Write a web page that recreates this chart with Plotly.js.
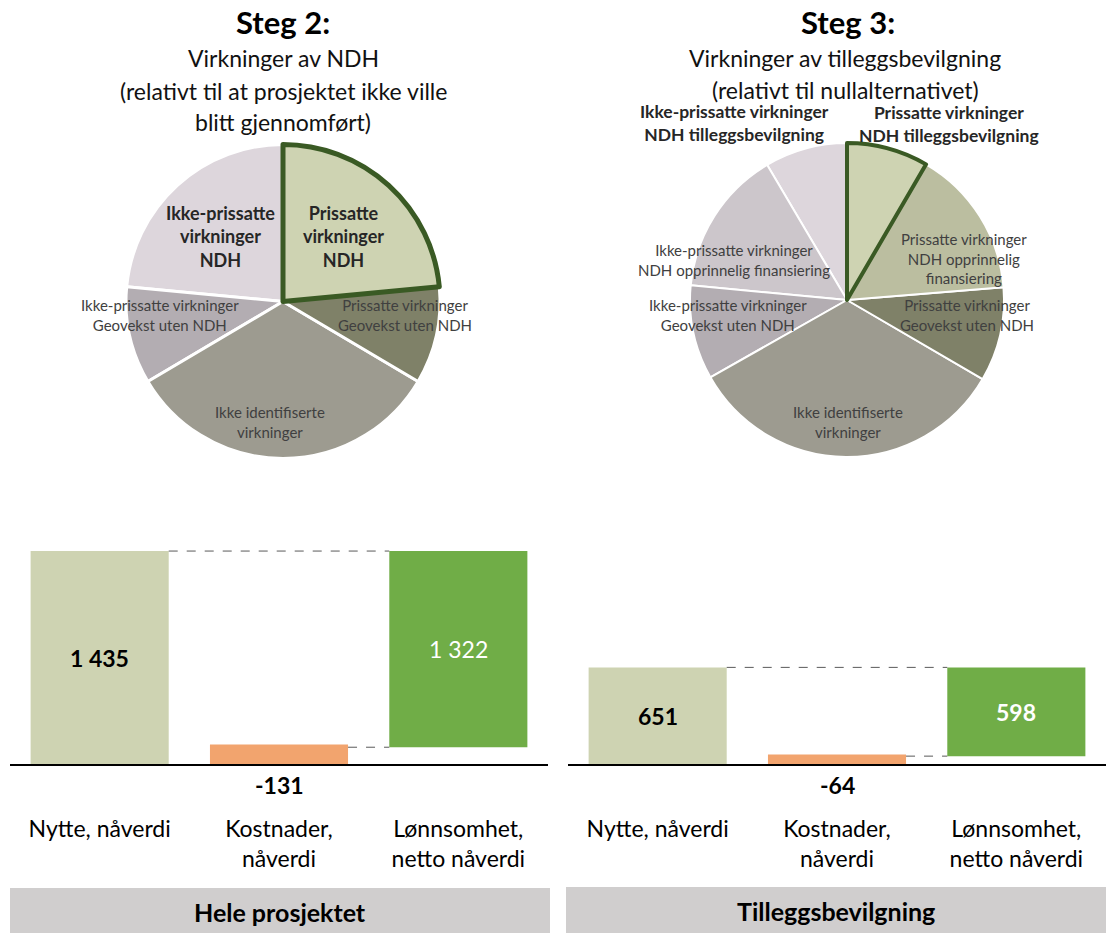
<!DOCTYPE html>
<html>
<head>
<meta charset="utf-8">
<script src="https://cdn.plot.ly/plotly-3.0.1.min.js"></script>
<style>
html,body{margin:0;padding:0;background:#fff;}
#chart{width:1106px;height:933px;}
</style>
</head>
<body>
<div id="chart"></div>
<script>
// ---------- DATA ----------
// Pie 1 (Steg 2), counter-clockwise from 12 o'clock
var pie1Labels = ["Ikke-prissatte virkninger NDH", "Ikke-prissatte virkninger Geovekst uten NDH", "Ikke identifiserte virkninger", "Prissatte virkninger Geovekst uten NDH", "Prissatte virkninger NDH"];
var pie1Values = [23.5, 10, 33, 10, 23.5];
// Pie 2 (Steg 3), counter-clockwise from 12 o'clock
var pie2Labels = ["Ikke-prissatte virkninger NDH tilleggsbevilgning", "Ikke-prissatte virkninger NDH opprinnelig finansiering", "Ikke-prissatte virkninger Geovekst uten NDH", "Ikke identifiserte virkninger", "Prissatte virkninger Geovekst uten NDH", "Prissatte virkninger NDH opprinnelig finansiering", "Prissatte virkninger NDH tilleggsbevilgning"];
var pie2Values = [8.5, 15, 9.7, 33.4, 9.7, 15.3, 8.4];

// Waterfall bars
var barCategories = ["Nytte, nåverdi", "Kostnader,<br>nåverdi", "Lønnsomhet,<br>netto nåverdi"];
var nytte = [1435, 651];      // Hele prosjektet, Tilleggsbevilgning
var kostnader = [-131, -64];
var netto = [1322, 598];
var panelTitles = ["Hele prosjektet", "Tilleggsbevilgning"];

// ---------- STYLE ----------
var FONT = "Lato, 'Open Sans', sans-serif";
var W = 1106, H = 933;
function px(x, y) { return {x: x / W, y: 1 - y / H}; }
function fmt(n) { return String(n).replace(/\B(?=(\d{3})+(?!\d))/g, " "); }
function sum(a) { return a.reduce(function (s, v) { return s + v; }, 0); }

var cPrisNDH = "#CED3B2", cPrisOpp = "#BBBEA0", cPrisGeo = "#7F8168", cIkkeId = "#9D9B90",
    cIkkePrisGeo = "#B3ADB2", cIkkePrisOpp = "#CCC6CB", cIkkePrisNDH = "#DDD6DC", cGreenLine = "#3A5A24";

var traces = [];
traces.push({
  type: "pie", values: pie1Values, labels: pie1Labels, sort: false, direction: "counterclockwise",
  rotation: -pie1Values[0] / sum(pie1Values) * 360,
  textinfo: "none", hoverinfo: "label", showlegend: false,
  domain: {x: [126 / W, 440 / W], y: [1 - 458.5 / H, 1 - 144.5 / H]},
  marker: {colors: [cIkkePrisNDH, cIkkePrisGeo, cIkkeId, cPrisGeo, cPrisNDH],
           line: {color: ["#fff", "#fff", "#fff", "#fff", cGreenLine], width: [3, 3, 3, 3, 5]}}
});
traces.push({
  type: "pie", values: pie2Values, labels: pie2Labels, sort: false, direction: "counterclockwise",
  rotation: -pie2Values[0] / sum(pie2Values) * 360,
  textinfo: "none", hoverinfo: "label", showlegend: false,
  domain: {x: [690 / W, 1004 / W], y: [1 - 457 / H, 1 - 143 / H]},
  marker: {colors: [cIkkePrisNDH, cIkkePrisOpp, cIkkePrisGeo, cIkkeId, cPrisGeo, cPrisOpp, cPrisNDH],
           line: {color: ["#fff", "#fff", "#fff", "#fff", "#fff", "#fff", cGreenLine], width: [2, 2, 2, 2, 2, 2, 4]}}
});

var BW = 0.77;
var shapes = [], annotations = [];
for (var i = 0; i < 2; i++) {
  var xa = i === 0 ? "x" : "x2", ya = i === 0 ? "y" : "y2";
  var heights = [nytte[i], Math.abs(kostnader[i]), netto[i]];
  var bases = [0, 0, nytte[i] - netto[i]];
  traces.push({
    type: "bar", x: [0, 1, 2], y: heights, base: bases, width: BW, xaxis: xa, yaxis: ya,
    marker: {color: [cPrisNDH, "#F2A46E", "#70AD47"], line: {width: 0}},
    hoverinfo: "none", showlegend: false
  });
  // connector lines
  shapes.push({type: "line", xref: xa, yref: ya, x0: BW / 2, x1: 2 - BW / 2, y0: nytte[i], y1: nytte[i],
               line: {color: "#595959", width: 1, dash: "dash"}});
  shapes.push({type: "line", xref: xa, yref: ya, x0: 1 + BW / 2, x1: 2 - BW / 2, y0: bases[2], y1: bases[2],
               line: {color: "#595959", width: 1, dash: "dash"}});
  // value labels
  annotations.push({xref: xa, yref: ya, x: 0, y: nytte[i] / 2, text: "<b>" + fmt(nytte[i]) + "</b>", showarrow: false,
                    font: {family: FONT, size: 23, color: "#000"}});
  annotations.push({xref: xa, yref: ya, x: 1, y: 0, yshift: -21, text: "<b>" + fmt(kostnader[i]) + "</b>", showarrow: false,
                    font: {family: FONT, size: 23, color: "#000"}});
  annotations.push({xref: xa, yref: ya, x: 2, y: bases[2] + netto[i] / 2,
                    text: i === 0 ? fmt(netto[i]) : "<b>" + fmt(netto[i]) + "</b>", showarrow: false,
                    font: {family: FONT, size: 23, color: "#fff"}});
}

// Gray panel boxes
shapes.push({type: "rect", xref: "paper", yref: "paper", x0: 10 / W, x1: 550 / W, y0: 0, y1: 1 - 888 / H,
             fillcolor: "#D0CECE", line: {width: 0}, layer: "below"});
shapes.push({type: "rect", xref: "paper", yref: "paper", x0: 566 / W, x1: 1, y0: 0, y1: 1 - 887 / H,
             fillcolor: "#D0CECE", line: {width: 0}, layer: "below"});

function ann(text, x, y, size, bold, color) {
  var p = px(x, y);
  annotations.push({xref: "paper", yref: "paper", x: p.x, y: p.y, xanchor: "center", yanchor: "middle",
    text: bold ? "<b>" + text + "</b>" : text, showarrow: false, align: "center",
    font: {family: FONT, size: size, color: color || "#000"}});
}
ann(panelTitles[0], 280, 912, 25, true);
ann(panelTitles[1], 836, 911, 25, true);

// Titles
ann("Steg 2:", 283, 22, 31, true);
ann("Virkninger av NDH", 283, 58, 23, false, "#111");
ann("(relativt til at prosjektet ikke ville", 283, 91, 23, false, "#111");
ann("blitt gjennomført)", 283, 122, 23, false, "#111");
ann("Steg 3:", 848, 22, 31, true);
ann("Virkninger av tilleggsbevilgning", 845, 58, 23, false, "#111");
ann("(relativt til nullalternativet)", 845, 90, 23, false, "#111");

// Pie labels
var LC = "#404040", BC = "#262626";
ann("Prissatte<br>virkninger<br>NDH", 343, 236, 18, true, BC);
ann("Ikke-prissatte<br>virkninger<br>NDH", 220, 236, 18, true, BC);
ann("Prissatte virkninger<br>Geovekst uten NDH", 405, 315, 15, false, LC);
ann("Ikke-prissatte virkninger<br>Geovekst uten NDH", 160, 315, 15, false, LC);
ann("Ikke identifiserte<br>virkninger", 270, 422, 15, false, LC);

ann("Ikke-prissatte virkninger<br>NDH tilleggsbevilgning", 734, 123, 17.5, true, BC);
ann("Prissatte virkninger<br>NDH tilleggsbevilgning", 949, 124, 17.5, true, BC);
ann("Prissatte virkninger<br>NDH opprinnelig<br>finansiering", 964, 259, 15, false, LC);
ann("Prissatte virkninger<br>Geovekst uten NDH", 967, 315, 15, false, LC);
ann("Ikke-prissatte virkninger<br>NDH opprinnelig finansiering", 734, 260, 15, false, LC);
ann("Ikke-prissatte virkninger<br>Geovekst uten NDH", 728, 315, 15, false, LC);
ann("Ikke identifiserte<br>virkninger", 848, 422, 15, false, LC);

var yRange = [0, (764 - 540) / 0.1484];
var yDom = [1 - 764 / H, 1 - 540 / H];
function xax(dom, anchor) {
  return {domain: dom, anchor: anchor, range: [-0.5, 2.5], tickvals: [0, 1, 2], ticktext: barCategories,
          showline: true, linecolor: "#000", linewidth: 2, ticks: "", showgrid: false, zeroline: false,
          fixedrange: true, ticklabelstandoff: 43, tickfont: {family: FONT, size: 23, color: "#000"}};
}
function yax(anchor) {
  return {domain: yDom, anchor: anchor, range: yRange, showgrid: false, zeroline: false, showticklabels: false,
          showline: false, ticks: "", fixedrange: true};
}

var layout = {
  width: W, height: H, margin: {l: 0, r: 0, t: 0, b: 0}, paper_bgcolor: "#fff", plot_bgcolor: "rgba(0,0,0,0)",
  showlegend: false, separators: ", ",
  xaxis: xax([10 / W, 548 / W], "y"), yaxis: yax("x"),
  xaxis2: xax([568 / W, 1], "y2"), yaxis2: yax("x2"),
  shapes: shapes, annotations: annotations, font: {family: FONT}
};
Plotly.newPlot("chart", traces, layout, {displayModeBar: false, staticPlot: true});
</script>
</body>
</html>
